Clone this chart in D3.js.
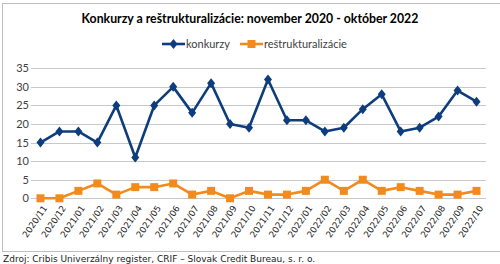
<!DOCTYPE html>
<html lang="sk">
<head>
<meta charset="UTF-8">
<title>Konkurzy a reštrukturalizácie</title>
<style>
  body { margin: 0; background: #fff; }
  svg { display: block; }
</style>
</head>
<body>
<div id="graph"></div>
<script src="https://cdn.jsdelivr.net/npm/d3@7"></script>
<script>
// dáta
var months = ["2020/11","2020/12","2021/01","2021/02","2021/03","2021/04","2021/05","2021/06",
              "2021/07","2021/08","2021/09","2021/10","2021/11","2021/12","2022/01","2022/02",
              "2022/03","2022/04","2022/05","2022/06","2022/07","2022/08","2022/09","2022/10"];
var konkurzy = [15, 18, 18, 15, 25, 11, 25, 30, 23, 31, 20, 19, 32, 21, 21, 18, 19, 24, 28, 18, 19, 22, 29, 26];
var restrukt = [0, 0, 2, 4, 1, 3, 3, 4, 1, 2, 0, 2, 1, 1, 2, 5, 2, 5, 2, 3, 2, 1, 1, 2];
var yTicks = [0, 5, 10, 15, 20, 25, 30, 35];

var width = 500, height = 264;
var plotLeft = 31, plotRight = 486, plotTop = 68.3, plotBottom = 198.3;
var blue = "#0d3d7c", orange = "#f28a1c";

var svg = d3.select("#graph").append("svg")
    .attr("width", width).attr("height", height);

// rámik
svg.append("rect")
    .attr("x", 2.5).attr("y", 3.5).attr("width", 520).attr("height", 248)
    .attr("fill", "none").attr("stroke", "#bfbfbf").attr("stroke-width", 1);

// nadpis
svg.append("text")
    .attr("x", 250).attr("y", 23)
    .attr("text-anchor", "middle")
    .style("font-family", "Lato, 'Open Sans', sans-serif")
    .style("font-weight", "bold").style("font-size", "12.3px")
    .text("Konkurzy a reštrukturalizácie: november 2020 - október 2022");

// škály
var x = d3.scalePoint().domain(months).range([plotLeft, plotRight]).padding(0.5);
var y = d3.scaleLinear().domain([0, 35]).range([plotBottom, plotTop]);

// mriežka
svg.append("g").selectAll("line").data(yTicks).enter().append("line")
    .attr("x1", plotLeft).attr("x2", plotRight)
    .attr("y1", function(d) { return Math.round(y(d)) + 0.5; })
    .attr("y2", function(d) { return Math.round(y(d)) + 0.5; })
    .attr("stroke", "#c8c8c8").attr("stroke-width", 1);

// os y
var yAxis = svg.append("g")
    .attr("transform", "translate(" + (plotLeft - 2) + ",0)")
    .call(d3.axisLeft(y).tickValues(yTicks).tickSize(0).tickPadding(0));
yAxis.select(".domain").remove();
yAxis.selectAll("text")
    .style("font-family", "Lato, 'Open Sans', sans-serif")
    .style("font-size", "11px").attr("fill", "#404040");

// os x
var xAxis = svg.append("g")
    .attr("transform", "translate(0," + (plotBottom + 8) + ")")
    .call(d3.axisBottom(x).tickSize(0).tickPadding(0));
xAxis.select(".domain").remove();
xAxis.selectAll("text")
    .style("font-family", "'DejaVu Sans', Verdana, sans-serif")
    .style("font-size", "8.8px").attr("fill", "#262626")
    .attr("text-anchor", "end")
    .attr("dy", "0.35em").attr("y", 0)
    .attr("transform", "translate(4,0) rotate(-56)");

// čiary
function drawSeries(values, color, marker) {
    var line = d3.line()
        .x(function(d, i) { return x(months[i]); })
        .y(function(d) { return y(d); });
    var g = svg.append("g");
    g.append("path").datum(values)
        .attr("d", line).attr("fill", "none")
        .attr("stroke", color).attr("stroke-width", 2.6)
        .attr("stroke-linejoin", "round");
    g.selectAll("path.m").data(values).enter().append("path")
        .attr("class", "m")
        .attr("transform", function(d, i) { return "translate(" + x(months[i]) + "," + y(d) + ")"; })
        .attr("d", marker)
        .attr("fill", color);
}
var diamond = "M0,-5L4,0L0,5L-4,0Z";
var square = "M-4,-4H4V4H-4Z";
drawSeries(restrukt, orange, square);
drawSeries(konkurzy, blue, diamond);

// legenda
var legend = [
    { name: "konkurzy", color: blue, marker: diamond, x: 162 },
    { name: "reštrukturalizácie", color: orange, marker: square, x: 240 }
];
var lg = svg.append("g").selectAll("g").data(legend).enter().append("g")
    .attr("transform", function(d) { return "translate(" + d.x + ",44)"; });
lg.append("line").attr("x1", 0).attr("x2", 23)
    .attr("stroke", function(d) { return d.color; }).attr("stroke-width", 2.6);
lg.append("path").attr("transform", "translate(11.5,0)")
    .attr("d", function(d) { return d.marker; })
    .attr("fill", function(d) { return d.color; });
lg.append("text").attr("x", 24).attr("y", 0).attr("dy", "0.35em")
    .style("font-family", "Lato, 'Open Sans', sans-serif")
    .style("font-size", "11px").attr("fill", "#404040")
    .text(function(d) { return d.name; });

// zdroj
svg.append("text")
    .attr("x", 3).attr("y", 262)
    .style("font-family", "'DejaVu Sans', Verdana, sans-serif")
    .style("font-size", "9px").attr("fill", "#1a1a1a")
    .text("Zdroj: Cribis Univerzálny register, CRIF – Slovak Credit Bureau, s. r. o.");
</script>
</body>
</html>
